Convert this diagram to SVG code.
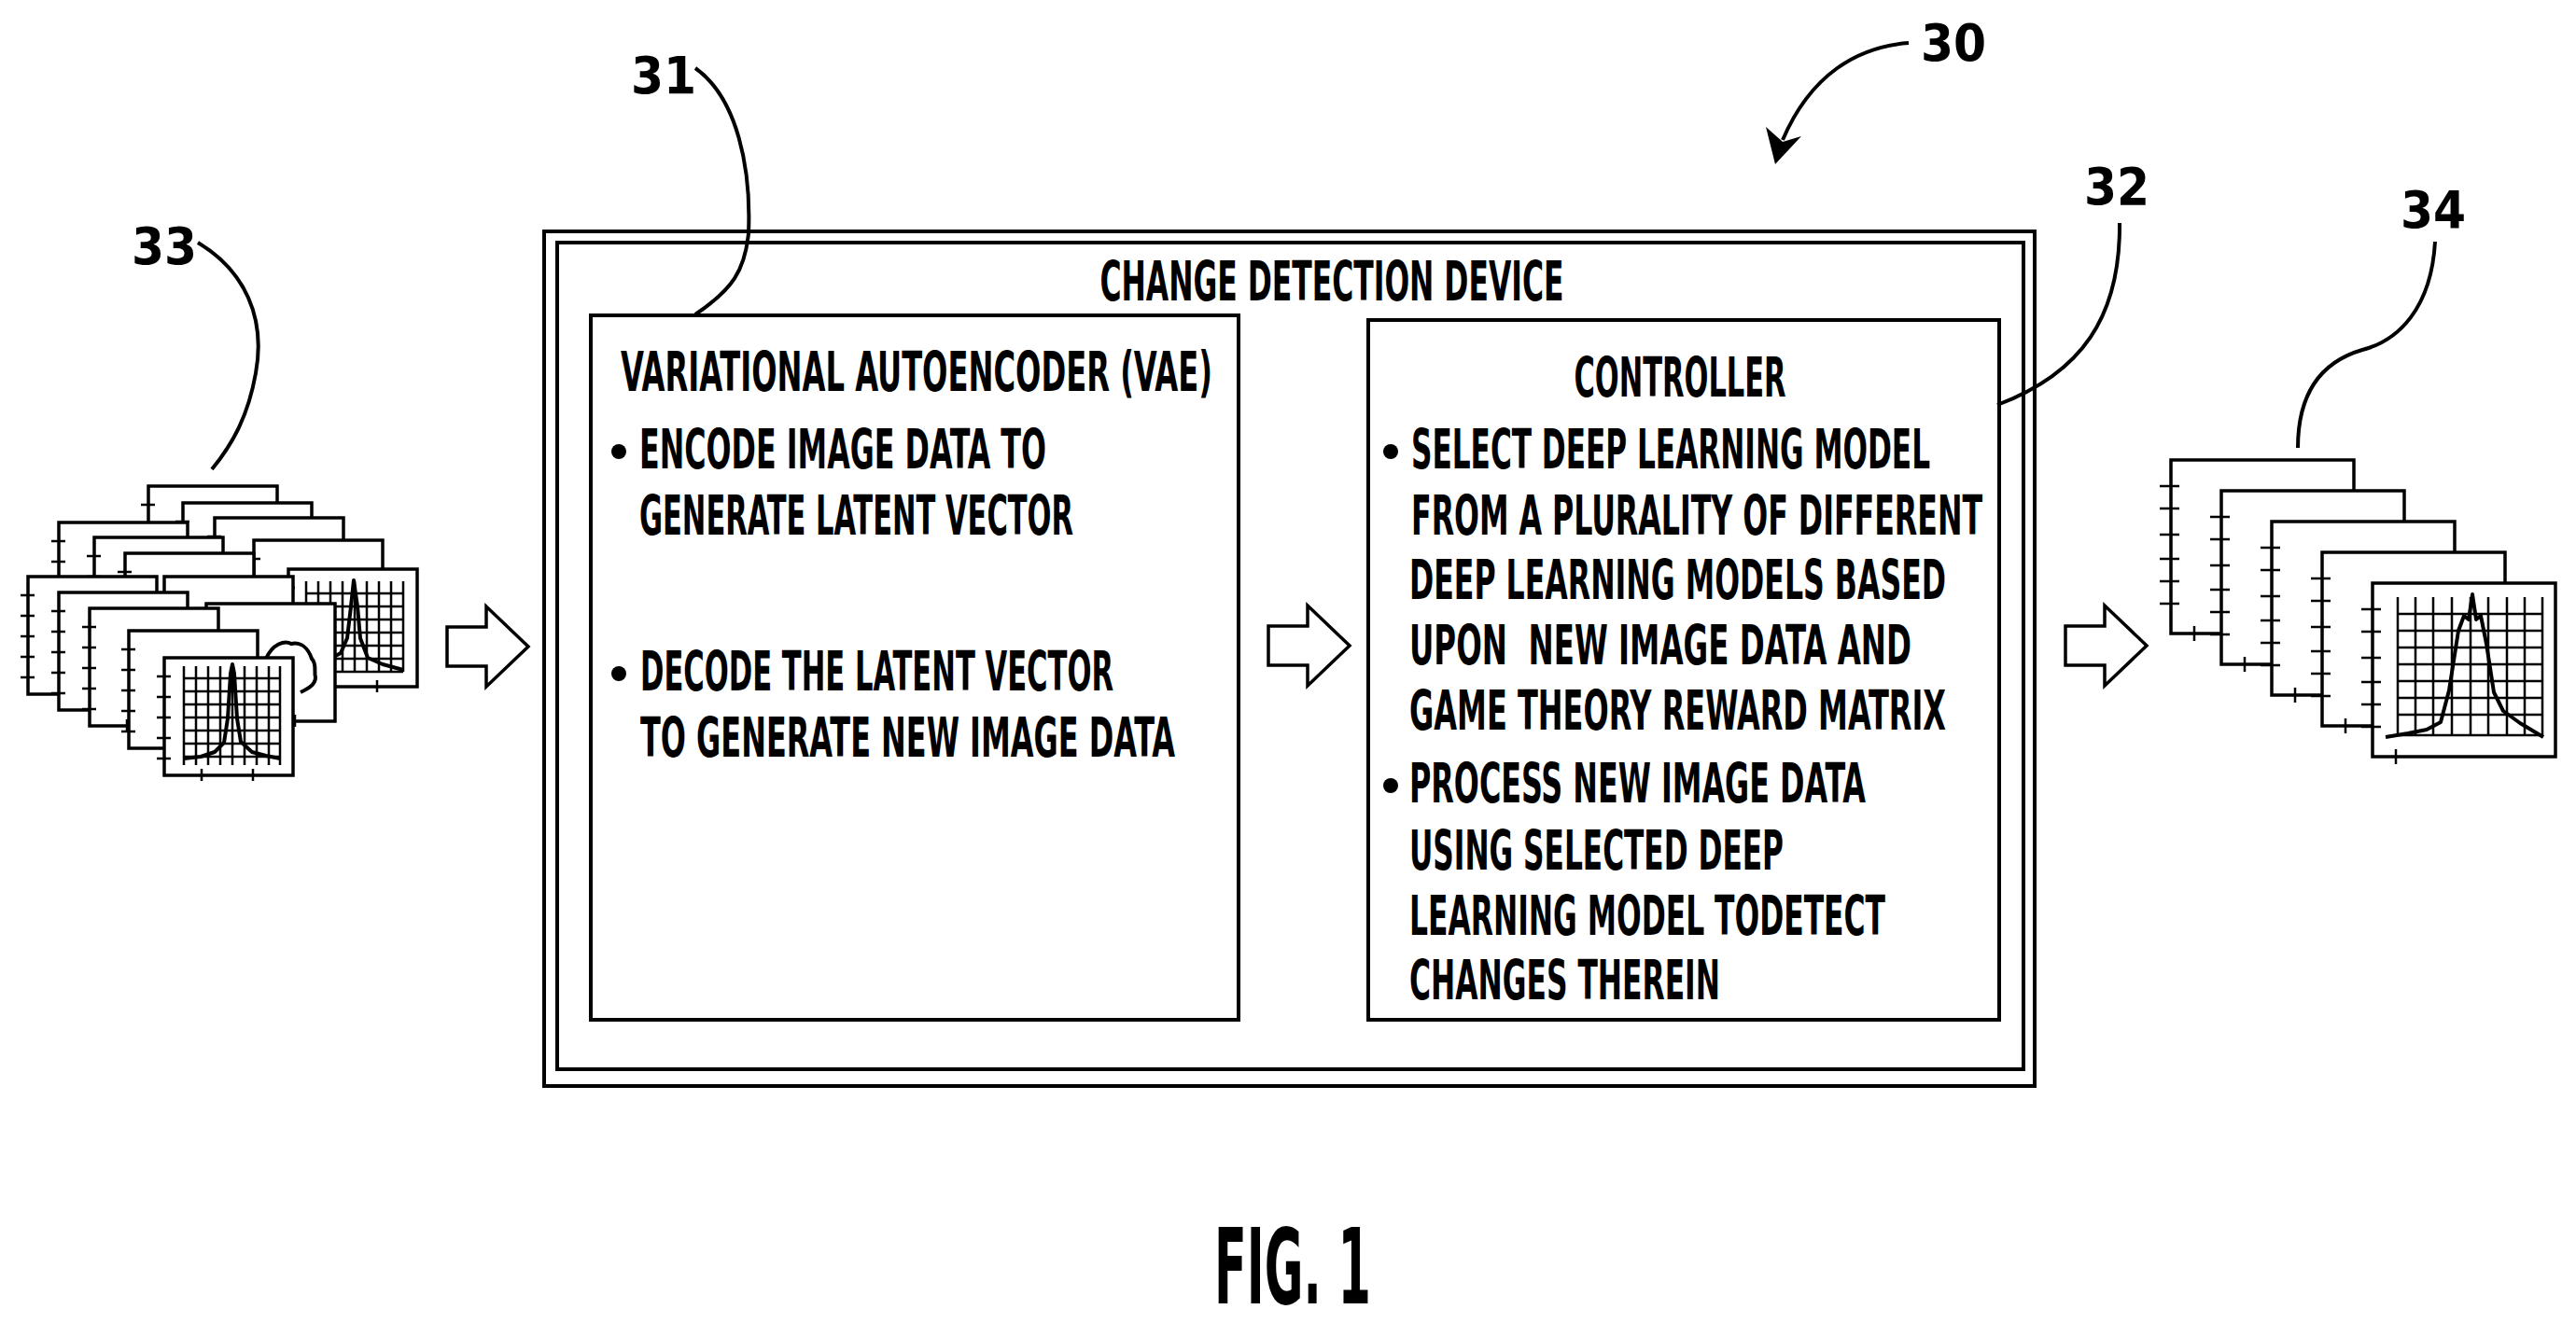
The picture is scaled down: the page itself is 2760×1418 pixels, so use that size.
<svg xmlns="http://www.w3.org/2000/svg" width="2760" height="1418" viewBox="0 0 2760 1418">
<style>
.f{fill:#fff;stroke:#000;stroke-width:3.5}
.ln{fill:none;stroke:#000;stroke-width:4}
.gr{fill:none;stroke:#000;stroke-width:2.5}
.pk{fill:none;stroke:#000;stroke-width:4;stroke-linejoin:round}
.t{font-family:"DejaVu Sans Condensed","DejaVu Sans",sans-serif;font-stretch:condensed;font-weight:bold;font-size:58px;fill:#000}
.n{font-family:"DejaVu Sans Condensed","DejaVu Sans",sans-serif;font-stretch:condensed;font-weight:bold;font-size:56px;fill:#000}
.ar{fill:#fff;stroke:#000;stroke-width:3.5;stroke-linejoin:miter}
</style>
<defs>
<g id="fr">
<rect class="f" x="0" y="0" width="138" height="126"/>
<path class="gr" d="M-8,20H7M-8,42H7M-8,64H7M-8,86H7M-8,108H7M40,119V132M95,119V132"/>
</g>
<g id="fr2">
<rect class="f" x="0" y="0" width="196" height="186"/>
<path class="gr" d="M-12,28H9M-12,52H9M-12,80H9M-12,106H9M-12,130H9M-12,154H9M25,178V194"/>
</g>
<path id="arrow" class="ar" d="M0,-21H42V-43L87,0L42,43V21H0Z"/>
</defs>

<g id="n33-stack">
<use href="#fr" x="159" y="521"/>
<use href="#fr" x="196" y="539"/>
<use href="#fr" x="230" y="555"/>
<use href="#fr" x="63" y="560"/>
<use href="#fr" x="101" y="576"/>
<use href="#fr" x="272" y="579"/>
<use href="#fr" x="134" y="593"/>
<g>
<use href="#fr" x="309" y="610"/>
<path class="gr" d="M328,623V720M341,623V720M354,623V720M367,623V720M380,623V720M393,623V720M406,623V720M419,623V720M432,623V720M328,636H432M328,650H432M328,664H432M328,678H432M328,692H432M328,706H432M328,720H432"/>
<path class="pk" d="M330,712L350,708L365,700L372,684L376,650L379,622L383,650L386,684L394,705L410,712L432,718"/>
</g>
<use href="#fr" x="30" y="618"/>
<use href="#fr" x="176" y="618"/>
<use href="#fr" x="63" y="635"/>
<g>
<use href="#fr" x="221" y="647"/>
<path class="ln" d="M285,706C292,690 305,686 312,690C322,688 330,694 334,706C340,712 336,720 338,726C338,734 330,738 322,742"/>
</g>
<use href="#fr" x="96" y="652"/>
<use href="#fr" x="138" y="676"/>
<g>
<use href="#fr" x="176" y="705"/>
<path class="gr" d="M197,714V820M210,714V820M223,714V820M236,714V820M249,714V820M262,714V820M275,714V820M288,714V820M300,714V820M197,727H300M197,741H300M197,755H300M197,769H300M197,783H300M197,797H300M197,811H300"/>
<path class="pk" d="M197,813L215,811L230,806L240,796L244,770L247,722L249,712L251,722L254,770L258,795L270,806L285,810L300,813"/>
</g>
</g>

<g id="n34-stack">
<use href="#fr2" x="2326" y="493"/>
<use href="#fr2" x="2380" y="526"/>
<use href="#fr2" x="2434" y="559"/>
<use href="#fr2" x="2488" y="592"/>
<g>
<use href="#fr2" x="2542" y="625"/>
<path class="gr" d="M2569,640V788M2588,640V788M2607,640V788M2627,640V788M2647,640V788M2666,640V788M2686,640V788M2705,640V788M2724,640V788M2569,658H2724M2569,676H2724M2569,694H2724M2569,712H2724M2569,730H2724M2569,748H2724M2569,766H2724M2569,788H2724"/>
<path class="pk" d="M2556,790L2580,786L2600,782L2615,774L2624,740L2634,676L2640,660L2645,664L2649,637L2653,664L2658,660L2664,690L2672,742L2682,762L2700,775L2725,790"/>
</g>
</g>

<g id="n30-device">
<rect x="583" y="248" width="1597" height="916" fill="none" stroke="#000" stroke-width="4"/>
<rect x="597" y="260" width="1571" height="886" fill="none" stroke="#000" stroke-width="4"/>
<text class="t" x="1427" y="322" text-anchor="middle" textLength="497" lengthAdjust="spacingAndGlyphs">CHANGE DETECTION DEVICE</text>
</g>

<g id="n31-vae">
<rect x="633" y="338" width="694" height="755" fill="none" stroke="#000" stroke-width="4"/>
<text class="t" x="665" y="419" textLength="634" lengthAdjust="spacingAndGlyphs">VARIATIONAL AUTOENCODER (VAE)</text>
<circle cx="663" cy="484" r="8"/>
<text class="t" x="685" y="502" textLength="436" lengthAdjust="spacingAndGlyphs">ENCODE IMAGE DATA TO</text>
<text class="t" x="685" y="573" textLength="465" lengthAdjust="spacingAndGlyphs">GENERATE LATENT VECTOR</text>
<circle cx="663" cy="722" r="8"/>
<text class="t" x="686" y="740" textLength="507" lengthAdjust="spacingAndGlyphs">DECODE THE LATENT VECTOR</text>
<text class="t" x="686" y="811" textLength="573" lengthAdjust="spacingAndGlyphs">TO GENERATE NEW IMAGE DATA</text>
</g>

<g id="n32-controller">
<rect x="1466" y="343" width="676" height="750" fill="none" stroke="#000" stroke-width="4"/>
<text class="t" x="1800" y="425" text-anchor="middle" textLength="227" lengthAdjust="spacingAndGlyphs">CONTROLLER</text>
<circle cx="1490" cy="484" r="8"/>
<text class="t" x="1512" y="502" textLength="556" lengthAdjust="spacingAndGlyphs">SELECT DEEP LEARNING MODEL</text>
<text class="t" x="1512" y="573" textLength="612" lengthAdjust="spacingAndGlyphs">FROM A PLURALITY OF DIFFERENT</text>
<text class="t" x="1510" y="642" textLength="575" lengthAdjust="spacingAndGlyphs">DEEP LEARNING MODELS BASED</text>
<text class="t" x="1510" y="712" textLength="538" lengthAdjust="spacingAndGlyphs" xml:space="preserve">UPON  NEW IMAGE DATA AND</text>
<text class="t" x="1510" y="782" textLength="575" lengthAdjust="spacingAndGlyphs">GAME THEORY REWARD MATRIX</text>
<circle cx="1490" cy="842" r="8"/>
<text class="t" x="1510" y="860" textLength="489" lengthAdjust="spacingAndGlyphs">PROCESS NEW IMAGE DATA</text>
<text class="t" x="1510" y="932" textLength="401" lengthAdjust="spacingAndGlyphs">USING SELECTED DEEP</text>
<text class="t" x="1510" y="1002" textLength="510" lengthAdjust="spacingAndGlyphs">LEARNING MODEL TODETECT</text>
<text class="t" x="1510" y="1071" textLength="333" lengthAdjust="spacingAndGlyphs">CHANGES THEREIN</text>
</g>

<g id="connectors">
<use href="#arrow" x="479" y="693"/>
<use href="#arrow" x="1359" y="692"/>
<use href="#arrow" x="2213" y="692"/>
<path class="ln" d="M212,260C262,290 285,340 274,400C266,445 250,475 227,503"/>
<path class="ln" stroke-width="3.5" d="M745,73C790,105 805,180 802,250C798,290 785,310 745,337"/>
<path class="ln" d="M2271,239C2272,340 2230,400 2140,434"/>
<path class="ln" d="M2609,259C2605,330 2570,365 2531,375C2480,390 2462,430 2462,480"/>
<path class="ln" d="M2045,46C1990,50 1940,80 1910,150"/>
<path d="M1892,136L1902,176L1930,146L1910,152Z" fill="#000"/>
</g>

<g id="labels">
<text class="n" x="176" y="283" text-anchor="middle">33</text>
<text class="n" x="711" y="100" text-anchor="middle">31</text>
<text class="n" x="2093" y="65" text-anchor="middle">30</text>
<text class="n" x="2268" y="219" text-anchor="middle">32</text>
<text class="n" x="2607" y="244" text-anchor="middle">34</text>
<text class="t" x="1385" y="1397" text-anchor="middle" style="font-size:112px" textLength="168" lengthAdjust="spacingAndGlyphs">FIG. 1</text>
</g>
</svg>
